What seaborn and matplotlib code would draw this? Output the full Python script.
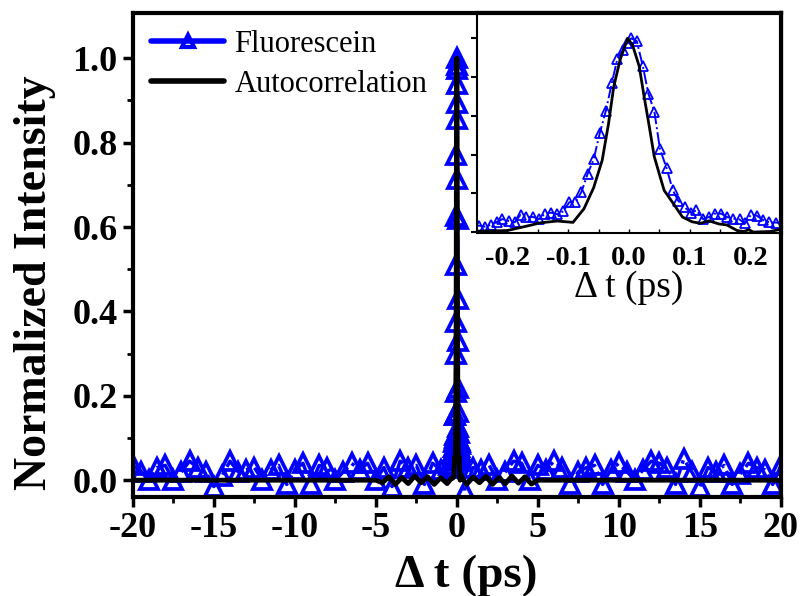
import numpy as np
import pandas as pd
import matplotlib
matplotlib.use("Agg")
import matplotlib.pyplot as plt
import seaborn as sns

# ---- Fluorescein: coarse scan outside the pulse ----
fl_x_left = [-20, -19.5, -19, -18.5, -18, -17.5, -17, -16.5, -16, -15.5,
             -15, -14.5, -14, -13.5, -13, -12.5, -12, -11.5, -11, -10.5,
             -10, -9.5, -9, -8.5, -8, -7.5, -7, -6.5, -6, -5.5,
             -5, -4.5, -4, -3.5, -3, -2.5, -2, -1.5, -1, -0.5]
fl_y_left = [0.035, 0.02, 0.0, 0.03, 0.035, 0.0, 0.02, 0.045, 0.03, 0.02,
             -0.015, 0.01, 0.045, 0.02, 0.025, 0.03, 0.0, 0.025, 0.035, -0.01,
             0.025, 0.04, -0.01, 0.035, 0.03, 0.0, 0.02, 0.04, 0.025, 0.04,
             0.0, 0.03, -0.015, 0.045, 0.03, 0.035, -0.01, 0.04, 0.025, 0.035]
fl_x_right = [0.5, 1, 1.5, 2, 2.5, 3, 3.5, 4, 4.5, 5,
              5.5, 6, 6.5, 7, 7.5, 8, 8.5, 9, 9.5, 10,
              10.5, 11, 11.5, 12, 12.5, 13, 13.5, 14, 14.5, 15,
              15.5, 16, 16.5, 17, 17.5, 18, 18.5, 19, 19.5, 20]
fl_y_right = [-0.025, 0.03, 0.025, 0.035, 0.0, 0.02, 0.045, 0.04, 0.0, 0.035,
              0.025, 0.045, 0.03, -0.01, 0.02, 0.03, 0.035, -0.01, 0.025, 0.04,
              0.02, 0.0, 0.025, 0.045, 0.04, 0.03, -0.01, 0.05, 0.02, -0.015,
              0.03, 0.02, 0.035, -0.01, 0.015, 0.04, 0.03, 0.025, -0.01, 0.035]

# ---- Fluorescein: fine scan across the pulse ----
fl_x_fine = [-0.246, -0.237, -0.227, -0.217, -0.208, -0.198, -0.188, -0.178, -0.169, -0.158,
             -0.148, -0.138, -0.128, -0.118, -0.108, -0.098, -0.088, -0.078, -0.068, -0.058,
             -0.048, -0.038, -0.028, -0.019, -0.010, -0.003, 0.004, 0.013, 0.023, 0.032,
             0.042, 0.051, 0.062, 0.072, 0.081, 0.092, 0.102, 0.111, 0.122, 0.132,
             0.141, 0.152, 0.161, 0.171, 0.182, 0.191, 0.201, 0.210, 0.221, 0.231, 0.242]
fl_y_fine = [0.033, 0.028, 0.037, 0.053, 0.067, 0.057, 0.050, 0.090, 0.078, 0.078,
             0.067, 0.095, 0.100, 0.092, 0.107, 0.154, 0.154, 0.208, 0.300, 0.375,
             0.51, 0.625, 0.77, 0.895, 0.94, 0.975, 1.0, 0.985, 0.855, 0.715,
             0.62, 0.43, 0.33, 0.218, 0.162, 0.127, 0.100, 0.112, 0.067, 0.078,
             0.095, 0.095, 0.078, 0.070, 0.065, 0.045, 0.090, 0.085, 0.062, 0.050, 0.049]

# ---- Autocorrelation ----
ac_x_left = [-20, -10, -5.0, -4.6, -4.2, -3.8, -3.4, -3.0, -2.6, -2.2, -1.8, -1.4, -1.0, -0.6, -0.35]
ac_y_left = [0, 0, 0, -0.006, 0.008, -0.01, 0.006, -0.008, 0.01, -0.006, 0.008, -0.01, 0.006, -0.008, 0.004]
ac_x_fine = [-0.245, -0.225, -0.2, -0.172, -0.145, -0.118, -0.092, -0.074, -0.058, -0.044,
             -0.0335, -0.025, -0.0144, -0.002, 0.006, 0.017, 0.025, 0.0335, 0.0417, 0.05,
             0.058, 0.0716, 0.088, 0.104, 0.118, 0.1315, 0.148, 0.161, 0.178, 0.189,
             0.197, 0.205, 0.232, 0.246]
ac_y_fine = [0.005, 0.006, 0.008, 0.028, 0.048, 0.057, 0.050, 0.12, 0.229, 0.37,
             0.56, 0.75, 0.89, 1.0, 0.965, 0.855, 0.70, 0.545, 0.39, 0.30,
             0.215, 0.154, 0.078, 0.053, 0.045, 0.058, 0.042, 0.037, 0.008, 0.003,
             0.012, 0.0, 0.003, 0.012]
ac_x_right = [0.35, 0.6, 1.0, 1.4, 1.8, 2.2, 2.6, 3.0, 3.4, 3.8, 4.2, 4.6, 5.0, 10, 20]
ac_y_right = [0.005, -0.01, 0.007, -0.006, 0.009, -0.01, 0.006, -0.008, 0.01, -0.007, 0.008, -0.009, 0, 0, 0]

main_xticks = [-20, -15, -10, -5, 0, 5, 10, 15, 20]
main_yticks = [0.0, 0.2, 0.4, 0.6, 0.8, 1.0]
inset_xticks = [-0.2, -0.1, 0.0, 0.1, 0.2]

fl = pd.DataFrame({"t": fl_x_left + fl_x_fine + fl_x_right,
                   "I": fl_y_left + fl_y_fine + fl_y_right})
ac = pd.DataFrame({"t": ac_x_left + ac_x_fine + ac_x_right,
                   "I": ac_y_left + ac_y_fine + ac_y_right})

sns.set_theme(style="ticks")
plt.rcParams["font.family"] = ["Liberation Serif", "DejaVu Serif"]
plt.rcParams["axes.unicode_minus"] = False
for key in ["text.color", "axes.labelcolor", "xtick.color", "ytick.color", "axes.edgecolor"]:
    plt.rcParams[key] = "black"

BLUE = "#0000ff"
fig = plt.figure(figsize=(8.05, 5.96), dpi=100)
ax = fig.add_axes([0.165, 0.166, 0.805, 0.812])

sns.lineplot(data=fl, x="t", y="I", ax=ax, sort=False, estimator=None,
             color=BLUE, linestyle="-.", linewidth=2.5, marker="^",
             markersize=13, markerfacecolor="none", markeredgecolor=BLUE,
             markeredgewidth=2.7, label="Fluorescein")
sns.lineplot(data=ac, x="t", y="I", ax=ax, sort=False, estimator=None,
             color="black", linewidth=3.5, label="Autocorrelation")

ax.set_xlim(-20, 20)
ax.set_ylim(-0.04, 1.107)
ax.set_xticks(main_xticks)
ax.set_xticklabels([str(v) for v in main_xticks])
ax.set_yticks(main_yticks)
ax.set_yticklabels([f"{v:.1f}" for v in main_yticks])
ax.set_xticks(np.arange(-17.5, 20, 5), minor=True)
ax.set_yticks([0.1, 0.3, 0.5, 0.7, 0.9], minor=True)
ax.tick_params(which="major", direction="out", length=7, width=2.5,
               labelsize=26, pad=4)
ax.tick_params(which="minor", direction="out", length=4, width=2)
for lab in ax.get_xticklabels() + ax.get_yticklabels():
    lab.set_fontweight("bold")
for s in ax.spines.values():
    s.set_linewidth(3)
ax.set_xlabel("\u0394 t (ps)", fontsize=34, fontweight="bold")
ax.xaxis.set_label_coords(0.514, -0.118)
ax.set_ylabel("Normalized Intensity", fontsize=33, fontweight="bold")
ax.yaxis.set_label_coords(-0.118, 0.444)

leg = ax.legend(loc="upper left", frameon=False, fontsize=22,
                handlelength=2.4, borderaxespad=0.0, labelspacing=0.35,
                handletextpad=0.33, bbox_to_anchor=(0.009, 0.99))
for h in leg.get_lines():
    h.set_linestyle("-")
    h.set_linewidth(4)
leg.get_lines()[0].set_markersize(9)
leg.get_lines()[0].set_markeredgewidth(3)

# ---- Inset: zoom on the pulse ----
axin = fig.add_axes([0.5925, 0.609, 0.3775, 0.369])
sns.lineplot(data=fl, x="t", y="I", ax=axin, sort=False, estimator=None,
             color=BLUE, linestyle="-.", linewidth=1.4, marker="^",
             markersize=6.5, markerfacecolor="none", markeredgecolor=BLUE,
             markeredgewidth=1.3, legend=False)
sns.lineplot(data=ac, x="t", y="I", ax=axin, sort=False, estimator=None,
             color="black", linewidth=2.0, legend=False)
axin.set_xlim(-0.25, 0.25)
axin.set_ylim(-0.005, 1.13)
axin.set_xticks(inset_xticks)
axin.set_xticklabels([f"{v:.1f}" for v in inset_xticks])
axin.set_xticks([-0.15, -0.05, 0.05, 0.15], minor=True)
axin.set_yticks([0.0, 0.2, 0.4, 0.6, 0.8, 1.0])
axin.set_yticklabels([])
axin.tick_params(axis="x", which="both", direction="in", length=3, width=1,
                 labelsize=20.5, pad=9)
axin.tick_params(axis="y", direction="out", length=4, width=1.5)
for lab in axin.get_xticklabels():
    lab.set_fontweight("bold")
axin.spines["left"].set_linewidth(1.5)
axin.spines["bottom"].set_linewidth(1.5)
axin.spines["top"].set_linewidth(3)
axin.spines["right"].set_linewidth(3)
axin.set_xlabel("\u0394 t (ps)", fontsize=27, labelpad=0)
axin.set_ylabel("")

fig.savefig("out.png", dpi=100)
